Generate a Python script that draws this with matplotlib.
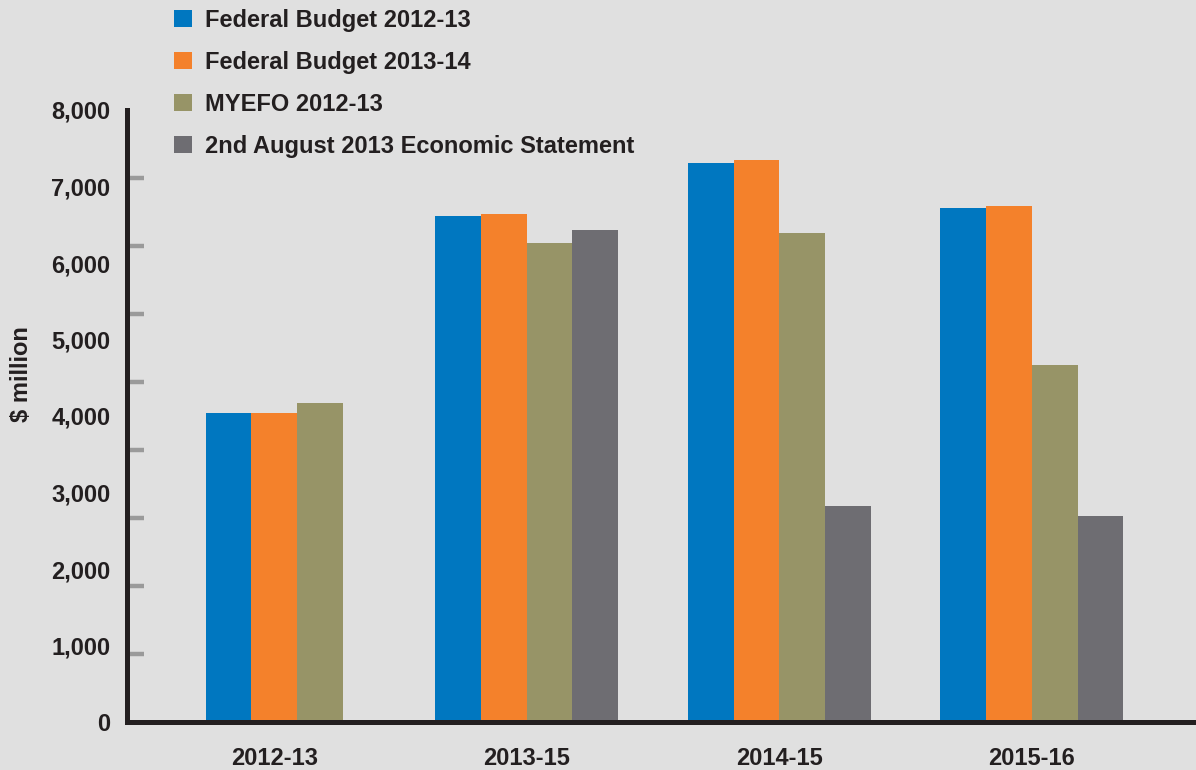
import numpy as np
import matplotlib
matplotlib.use('Agg')
import matplotlib.pyplot as plt
from matplotlib.patches import Patch
from matplotlib.ticker import FixedLocator, FuncFormatter

# ---- data ----
categories = ['2012-13', '2013-15', '2014-15', '2015-16']
series_names = ['Federal Budget 2012-13', 'Federal Budget 2013-14',
                'MYEFO 2012-13', '2nd August 2013 Economic Statement']
fed_budget_2012_13 = [4040, 6610, 7310, 6720]
fed_budget_2013_14 = [4040, 6640, 7350, 6750]
myefo_2012_13 = [4170, 6260, 6390, 4670]
aug_2013_statement = [np.nan, 6430, 2820, 2690]
y_tick_values = [0, 1000, 2000, 3000, 4000, 5000, 6000, 7000, 8000]

# ---- style ----
colors = ['#0077c0', '#f4812b', '#979467', '#6e6d72']
BG = '#e0e0e0'
TXT = '#231f20'
FS = 17

plt.rcParams['font.family'] = ['Liberation Sans', 'DejaVu Sans']
plt.rcParams['font.weight'] = 'bold'

W, H = 1196, 770
fig = plt.figure(figsize=(W / 100, H / 100), dpi=100, facecolor=BG)
ax = fig.add_axes([127 / W, 1 - 722 / H, 1 - 127 / W, (722 - 110) / H])
ax.set_facecolor(BG)

all_series = [fed_budget_2012_13, fed_budget_2013_14, myefo_2012_13, aug_2013_statement]
x = np.arange(len(categories))
width = 0.181
for g in range(len(categories)):
    present = [k for k in range(len(all_series)) if not np.isnan(all_series[k][g])]
    n = len(present)
    for j, k in enumerate(present):
        off = (j - (n - 1) / 2) * width
        ax.bar(x[g] + off, all_series[k][g], width, color=colors[k], linewidth=0, zorder=2)

ax.set_xlim(-0.583, 3.650)
ax.set_ylim(0, 8000)

for s in ['top', 'right']:
    ax.spines[s].set_visible(False)
for s in ['left', 'bottom']:
    ax.spines[s].set_linewidth(3.6)
    ax.spines[s].set_color(TXT)
    ax.spines[s].set_zorder(5)

ax.yaxis.set_major_locator(FixedLocator(y_tick_values))
ax.yaxis.set_major_formatter(FuncFormatter(lambda v, p: f'{v:,.0f}'))
ax.yaxis.set_minor_locator(FixedLocator(np.linspace(0, 8000, 10)))
ax.tick_params(axis='y', which='major', length=0, pad=12, labelsize=FS, labelcolor=TXT)
ax.tick_params(axis='y', which='minor', direction='in', length=12, width=3.2, color='#9a9a9a')

ax.set_xticks(x, categories)
ax.tick_params(axis='x', length=0, pad=18, labelsize=FS, labelcolor=TXT)

fig.text(22 / W, 1 - 374 / H, '$ million', rotation=90, ha='center', va='center',
         fontsize=FS, fontweight='bold', color=TXT)

handles = [Patch(facecolor=c, edgecolor='none') for c in colors]
fig.legend(handles, series_names, loc='upper left', bbox_to_anchor=(174 / W, 1 - 9 / H),
           frameon=False, fontsize=FS, handlelength=0.76, handleheight=0.76,
           handletextpad=0.55, labelspacing=0.80, borderpad=0, borderaxespad=0,
           labelcolor=TXT)

fig.savefig('out.png', dpi=100, facecolor=BG)
